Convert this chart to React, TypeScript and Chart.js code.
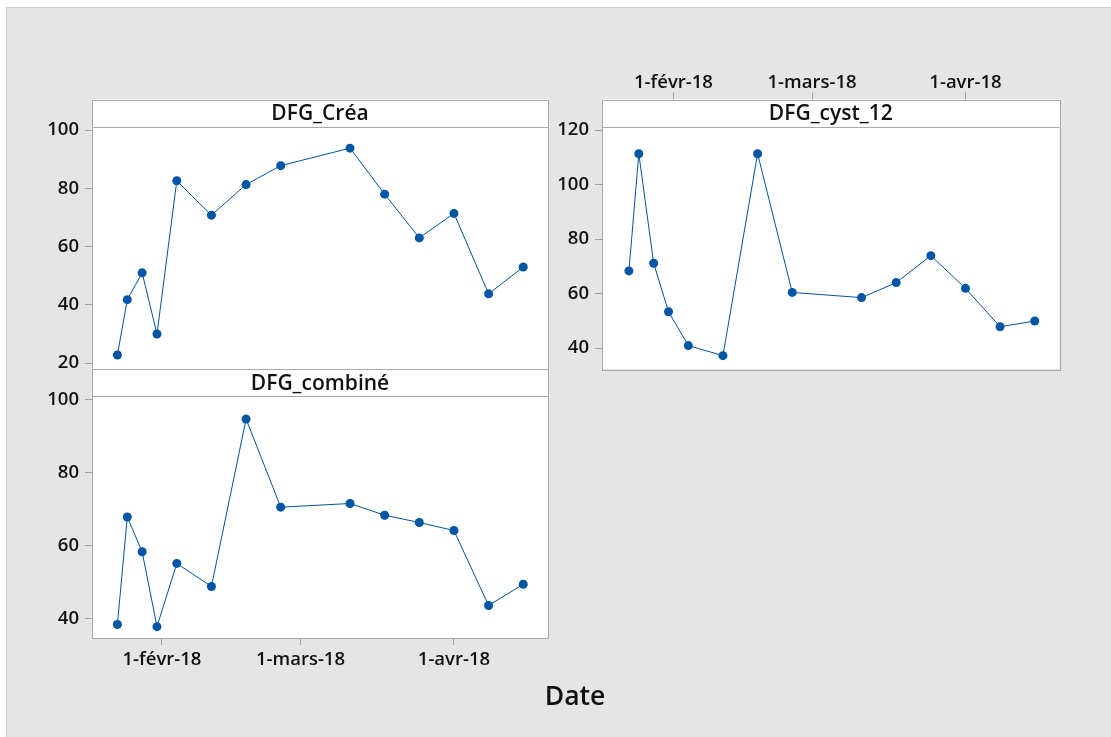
import React, { useEffect, useRef } from 'react';
import { Chart, registerables } from 'chart.js';

Chart.register(...registerables);

// ---- Data ----
const dates = [
  '2018-01-23', '2018-01-25', '2018-01-28', '2018-01-31', '2018-02-04', '2018-02-11', '2018-02-18',
  '2018-02-25', '2018-03-11', '2018-03-18', '2018-03-25', '2018-04-01', '2018-04-08', '2018-04-15',
];
const dfgCrea = [22.8, 41.8, 51.0, 30.0, 82.6, 70.8, 81.3, 87.8, 93.8, 78.0, 63.0, 71.4, 43.8, 53.0];
const dfgCombine = [38.4, 67.8, 58.3, 37.8, 55.1, 48.8, 94.6, 70.5, 71.5, 68.3, 66.3, 64.1, 43.6, 49.4];
const dfgCyst = [68.3, 111.3, 71.1, 53.3, 40.9, 37.2, 111.3, 60.4, 58.5, 64.0, 73.9, 61.9, 47.8, 49.9];
const xTickDates = ['2018-02-01', '2018-03-01', '2018-04-01'];
const xTickLabels = ['1-févr-18', '1-mars-18', '1-avr-18'];
const creaTicks = [20, 40, 60, 80, 100];
const combineTicks = [40, 60, 80, 100];
const cystTicks = [40, 60, 80, 100, 120];

const ORIGIN = Date.parse('2018-02-01');
const toDay = (d: string) => (Date.parse(d) - ORIGIN) / 86400000;
const xTickDays = xTickDates.map(toDay);

// ---- Styles ----
const W = 1111;
const H = 737;
const BLUE = '#0055a5';
const FRAME = '#a9a9a9';
const TICKC = '#a0a0a0';
const FONT = "'Open Sans', 'Noto Sans', sans-serif";
const STRIP_H = 27;
const Y_AXIS_W = 80;
const X_AXIS_H = 40;
const TICK_SIZE = 18.5;

type Panel = {
  title: string;
  values: number[];
  yTicks: number[];
  yMin: number;
  yMax: number;
  xMin: number;
  xMax: number;
  xPos: 'none' | 'top' | 'bottom';
  area: { left: number; top: number; right: number; bottom: number };
};

const panels: Panel[] = [
  {
    title: 'DFG_Créa', values: dfgCrea, yTicks: creaTicks, yMin: 18.0, yMax: 110.5,
    xMin: -14.13, xMax: 78.0, xPos: 'none',
    area: { left: 92, top: 99.5, right: 548, bottom: 369 },
  },
  {
    title: 'DFG_combiné', values: dfgCombine, yTicks: combineTicks, yMin: 34.7, yMax: 108.3,
    xMin: -14.13, xMax: 78.0, xPos: 'bottom',
    area: { left: 92, top: 369, right: 548, bottom: 638 },
  },
  {
    title: 'DFG_cyst_12', values: dfgCyst, yTicks: cystTicks, yMin: 32.3, yMax: 131.2,
    xMin: -14.44, xMax: 78.0, xPos: 'top',
    area: { left: 602, top: 99.5, right: 1059.5, bottom: 369 },
  },
];

const panelPlugin = {
  id: 'panelFrame',
  beforeDraw(chart: any) {
    const { ctx, chartArea: a } = chart;
    ctx.save();
    ctx.fillStyle = '#ffffff';
    ctx.fillRect(a.left, a.top, a.right - a.left, a.bottom - a.top);
    ctx.restore();
  },
  afterDraw(chart: any, _args: any, opts: any) {
    const { ctx, chartArea: a } = chart;
    ctx.save();
    ctx.fillStyle = '#ffffff';
    ctx.fillRect(a.left, a.top, a.right - a.left, STRIP_H);
    ctx.strokeStyle = FRAME;
    ctx.lineWidth = 1;
    ctx.strokeRect(Math.round(a.left) + 0.5, Math.round(a.top) + 0.5, Math.round(a.right - a.left), Math.round(a.bottom - a.top));
    ctx.beginPath();
    ctx.moveTo(a.left, Math.round(a.top + STRIP_H) + 0.5);
    ctx.lineTo(a.right, Math.round(a.top + STRIP_H) + 0.5);
    ctx.stroke();
    ctx.fillStyle = '#111111';
    ctx.font = `600 21px ${FONT}`;
    ctx.textAlign = 'center';
    ctx.textBaseline = 'alphabetic';
    ctx.fillText(opts.title, (a.left + a.right) / 2, a.top + 20.5);
    ctx.restore();
  },
};

function buildConfig(p: Panel): any {
  const xAxisH = p.xPos === 'none' ? 0 : X_AXIS_H;
  const padding = {
    left: p.area.left - Y_AXIS_W,
    right: W - p.area.right,
    top: p.xPos === 'top' ? p.area.top - xAxisH : p.area.top,
    bottom: p.xPos === 'bottom' ? H - p.area.bottom - xAxisH : H - p.area.bottom,
  };
  const tickFont = { family: FONT, size: TICK_SIZE, weight: '600' };
  return {
    type: 'scatter',
    data: {
      datasets: [
        {
          data: dates.map((d, i) => ({ x: toDay(d), y: p.values[i] })),
          showLine: true,
          borderColor: BLUE,
          backgroundColor: BLUE,
          borderWidth: 1,
          pointRadius: 4.5,
          pointHoverRadius: 4.5,
          pointBorderWidth: 0,
        },
      ],
    },
    options: {
      responsive: false,
      animation: false,
      events: [],
      layout: { padding },
      plugins: {
        legend: { display: false },
        tooltip: { enabled: false },
        title: { display: false },
        panelFrame: { title: p.title },
      },
      scales: {
        x: {
          type: 'linear',
          display: p.xPos !== 'none',
          position: p.xPos === 'top' ? 'top' : 'bottom',
          min: p.xMin,
          max: p.xMax,
          afterBuildTicks: (s: any) => { s.ticks = xTickDays.map((v) => ({ value: v })); },
          afterFit: (s: any) => { s.height = xAxisH; },
          ticks: {
            autoSkip: false,
            maxRotation: 0,
            padding: p.xPos === 'top' ? -1 : 4,
            color: '#111111',
            font: tickFont,
            callback: (_v: any, i: number) => xTickLabels[i],
          },
          grid: { drawOnChartArea: false, drawTicks: true, tickLength: 7, color: TICKC },
          border: { display: false },
        },
        y: {
          type: 'linear',
          min: p.yMin,
          max: p.yMax,
          afterBuildTicks: (s: any) => { s.ticks = p.yTicks.map((v) => ({ value: v })); },
          afterFit: (s: any) => { s.width = Y_AXIS_W; },
          ticks: {
            padding: 6,
            color: '#111111',
            font: tickFont,
            callback: (v: any) => String(v),
          },
          grid: { drawOnChartArea: false, drawTicks: true, tickLength: 7, color: TICKC },
          border: { display: false },
        },
      },
    },
    plugins: [panelPlugin],
  };
}

export default function App() {
  const refs = [useRef<HTMLCanvasElement>(null), useRef<HTMLCanvasElement>(null), useRef<HTMLCanvasElement>(null)];

  useEffect(() => {
    const charts = panels.map((p, i) => new Chart(refs[i].current as HTMLCanvasElement, buildConfig(p)));
    return () => charts.forEach((c) => c.destroy());
  }, []);

  return (
    <div style={{ position: 'fixed', left: 0, top: 0, width: W, height: H, background: '#ffffff', overflow: 'hidden' }}>
      <div
        style={{
          position: 'absolute', left: 6, top: 7, right: 0, bottom: 0,
          background: '#e5e5e5', borderTop: '1px solid #d0d0d0', borderLeft: '1px solid #d0d0d0',
        }}
      />
      {panels.map((p, i) => (
        <canvas
          key={p.title}
          ref={refs[i]}
          width={W}
          height={H}
          style={{ position: 'absolute', left: 0, top: 0, width: W, height: H }}
        />
      ))}
      <div
        style={{
          position: 'absolute', left: 425, width: 300, top: 682, textAlign: 'center',
          fontFamily: FONT, fontWeight: 600, fontSize: 26.5, lineHeight: '26px', color: '#111111',
        }}
      >
        Date
      </div>
    </div>
  );
}
